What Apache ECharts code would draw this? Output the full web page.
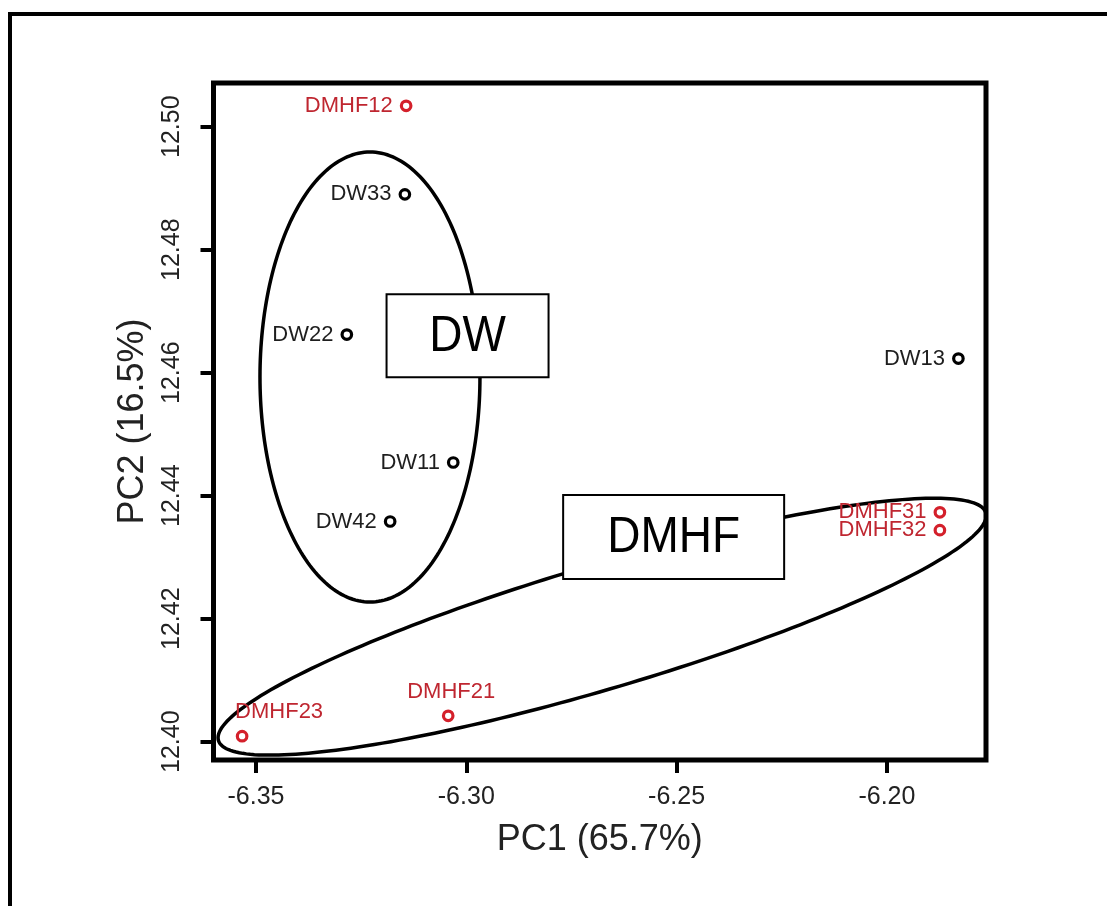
<!DOCTYPE html>
<html>
<head>
<meta charset="utf-8">
<script src="https://cdn.jsdelivr.net/npm/echarts@6/dist/echarts.min.js"></script>
<style>
  html, body { margin: 0; padding: 0; background: #fff; }
  #chart { width: 1107px; height: 906px; }
</style>
</head>
<body>
<div id="chart"></div>
<script>
// ---- data ----
const xTicks = [-6.35, -6.30, -6.25, -6.20];
const yTicks = [12.40, 12.42, 12.44, 12.46, 12.48, 12.50];

const dwNames = ['DW33', 'DW22', 'DW13', 'DW11', 'DW42'];
const dwX = [-6.3146, -6.3284, -6.1830, -6.3031, -6.3181];
const dwY = [12.4890, 12.4662, 12.4623, 12.4454, 12.4358];

const dmhfNames = ['DMHF12', 'DMHF31', 'DMHF32', 'DMHF23', 'DMHF21'];
const dmhfX = [-6.3143, -6.1874, -6.1874, -6.3533, -6.3043];
const dmhfY = [12.5034, 12.4373, 12.4344, 12.4009, 12.4042];

// group ellipses: centre and two conjugate semi-axis vectors (data units)
const groupNames = ['DW', 'DMHF'];
const ellipseCx = [-6.3229, -6.2677];
const ellipseCy = [12.4593, 12.4187];
const ellipseAx = [0.02615, 0.09122];
const ellipseAy = [0.0, 0.01852];
const ellipseBx = [0.0, 0.00418];
const ellipseBy = [0.03659, -0.00966];
// group label box centres (data units)
const boxX = [-6.2997, -6.2507];
const boxY = [12.4660, 12.4333];

// ---- styles ----
const FONT = "'Liberation Sans', Arial, Helvetica, sans-serif";
const RED_MARK = '#d4202b';
const RED_TEXT = '#bf2630';
const boxW = [162, 221];
const boxH = [83, 84];

const labelStyleFor = {
  'DMHF23': { position: 'top', distance: 7, offset: [37, 0] },
  'DMHF21': { position: 'top', distance: 7, offset: [3, 0] }
};

function pointData(names, xs, ys) {
  return names.map((n, i) => {
    const item = { name: n, value: [xs[i], ys[i]] };
    if (labelStyleFor[n]) item.label = labelStyleFor[n];
    return item;
  });
}

const chart = echarts.init(document.getElementById('chart'), null, { renderer: 'canvas' });

const option = {
  backgroundColor: '#ffffff',
  animation: false,
  graphic: [{
    type: 'rect',
    shape: { x: 10, y: 14, width: 1200, height: 1000 },
    style: { fill: 'none', stroke: '#000', lineWidth: 4 },
    z: 0
  }],
  grid: {
    left: 213.5, top: 83, width: 772.5, height: 677,
    show: true, borderColor: '#000', borderWidth: 5, backgroundColor: 'transparent'
  },
  xAxis: {
    type: 'value',
    min: -6.3601, max: -6.17644,
    name: 'PC1 (65.7%)',
    nameLocation: 'middle',
    nameGap: 62,
    nameTextStyle: { fontFamily: FONT, fontSize: 36, color: '#222' },
    axisLine: { show: false },
    axisTick: { show: true, length: 13, inside: false, customValues: xTicks,
      lineStyle: { color: '#000', width: 4 } },
    axisLabel: { customValues: xTicks, margin: 25, fontFamily: FONT, fontSize: 25, color: '#222',
      formatter: v => v.toFixed(2) },
    splitLine: { show: false }
  },
  yAxis: {
    type: 'value',
    min: 12.39702, max: 12.50711,
    name: 'PC2 (16.5%)',
    nameLocation: 'middle',
    nameGap: 62,
    nameRotate: 90,
    nameTextStyle: { fontFamily: FONT, fontSize: 36, color: '#222' },
    axisLine: { show: false },
    axisTick: { show: true, length: 13, inside: false, customValues: yTicks,
      lineStyle: { color: '#000', width: 4 } },
    axisLabel: { customValues: yTicks, rotate: 90, margin: 29, fontFamily: FONT, fontSize: 25, color: '#222',
      formatter: v => v.toFixed(2) },
    splitLine: { show: false }
  },
  series: [
    {
      type: 'custom',
      name: 'ellipses',
      coordinateSystem: 'cartesian2d',
      z: 2,
      silent: true,
      data: groupNames.map((g, i) => [ellipseCx[i], ellipseCy[i], i]),
      renderItem: function (params, api) {
        const i = api.value(2);
        const pts = [];
        const N = 240;
        for (let k = 0; k < N; k++) {
          const t = 2 * Math.PI * k / N;
          const x = ellipseCx[i] + Math.cos(t) * ellipseAx[i] + Math.sin(t) * ellipseBx[i];
          const y = ellipseCy[i] + Math.cos(t) * ellipseAy[i] + Math.sin(t) * ellipseBy[i];
          pts.push(api.coord([x, y]));
        }
        return {
          type: 'polygon',
          shape: { points: pts },
          style: { fill: 'none', stroke: '#000', lineWidth: 3.5 }
        };
      }
    },
    {
      type: 'custom',
      name: 'boxes',
      coordinateSystem: 'cartesian2d',
      z: 3,
      silent: true,
      data: groupNames.map((g, i) => [boxX[i], boxY[i], i]),
      renderItem: function (params, api) {
        const i = api.value(2);
        const c = api.coord([api.value(0), api.value(1)]);
        const w = boxW[i], h = boxH[i];
        return {
          type: 'group',
          children: [
            {
              type: 'rect',
              shape: { x: c[0] - w / 2, y: c[1] - h / 2, width: w, height: h },
              style: { fill: '#fff', stroke: '#000', lineWidth: 2 }
            },
            {
              type: 'text',
              x: c[0], y: c[1] + 1,
              scaleY: 1.1,
              style: {
                text: groupNames[i],
                x: 0, y: 0,
                align: 'center', verticalAlign: 'middle',
                font: '46px ' + FONT,
                fill: '#000'
              }
            }
          ]
        };
      }
    },
    {
      type: 'scatter',
      name: 'DW',
      z: 4,
      symbol: 'circle',
      symbolSize: 9.5,
      itemStyle: { color: '#fff', borderColor: '#000', borderWidth: 3.2, opacity: 1 },
      label: {
        show: true, position: 'left', distance: 7,
        formatter: p => p.name,
        fontFamily: FONT, fontSize: 22, color: '#1e1e1e'
      },
      data: pointData(dwNames, dwX, dwY)
    },
    {
      type: 'scatter',
      name: 'DMHF',
      z: 4,
      symbol: 'circle',
      symbolSize: 9.5,
      itemStyle: { color: '#fff', borderColor: RED_MARK, borderWidth: 3.2, opacity: 1 },
      label: {
        show: true, position: 'left', distance: 7,
        formatter: p => p.name,
        fontFamily: FONT, fontSize: 22, color: RED_TEXT
      },
      data: pointData(dmhfNames, dmhfX, dmhfY)
    }
  ]
};

chart.setOption(option);
</script>
</body>
</html>
